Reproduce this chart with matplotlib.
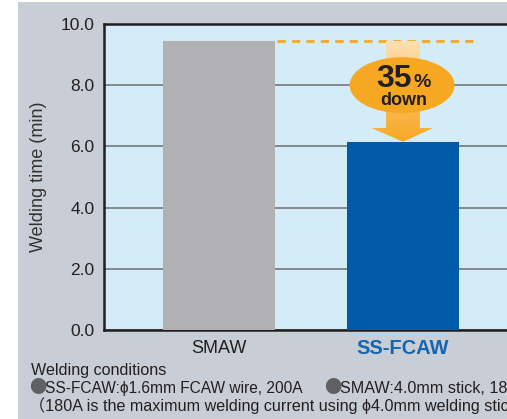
import matplotlib
matplotlib.use("Agg")
import matplotlib.pyplot as plt
from matplotlib.patches import Rectangle, Ellipse, Polygon
from matplotlib.colors import LinearSegmentedColormap
import numpy as np

# data
categories = ["SMAW", "SS-FCAW"]
times = [9.45, 6.15]
bar_colors = ["#b1b1b3", "#005aa8"]
yticks = [0.0, 2.0, 4.0, 6.0, 8.0, 10.0]
reduction_label = "35"
note_title = "Welding conditions"
note_fcaw = "SS-FCAW:\u03d51.6mm FCAW wire, 200A"
note_smaw = "SMAW:4.0mm stick, 180A"
note_extra = "\uff08180A is the maximum welding current using \u03d54.0mm welding stick\uff09"

plt.rcParams['font.family'] = ['Liberation Sans', 'DejaVu Sans', 'Noto Sans CJK JP']

W, H = 507, 419
fig = plt.figure(figsize=(W / 100, H / 100), dpi=100, facecolor="white")
# grey panel behind everything (thin white strip on the left / top)
fig.patches.append(Rectangle((18 / W, 0), 1, (H - 2) / H, transform=fig.transFigure,
                             facecolor="#c7ced5", edgecolor="none", zorder=-10))

ax = fig.add_axes([104 / W, (H - 330) / H, 414 / W, 306 / H])
ax.set_facecolor("#d3ecf8")

x = np.arange(len(categories))
ax.bar(x, times, width=0.61, color=bar_colors, zorder=3)

ax.set_yticks(yticks)
ax.set_yticklabels([f"{v:.1f}" for v in yticks], fontsize=12.5, color="#231f20")
ax.tick_params(axis="y", length=0, pad=7)
ax.set_xticks(x)
ax.set_xticklabels([])
ax.tick_params(axis="x", length=0)
ax.grid(axis="y", color="#6d6e71", lw=1.1, zorder=1)
ax.set_axisbelow(True)
for side in ["left", "top", "bottom"]:
    ax.spines[side].set_color("#231f20")
    ax.spines[side].set_linewidth(1.8)
ax.spines["right"].set_visible(False)

ax.set_ylabel("Welding time (min)", fontsize=13, color="#333333", labelpad=10)

# category labels
ax.text(x[0], -0.59, categories[0], ha="center", va="center", fontsize=13,
        color="#231f20", clip_on=False)
ax.text(x[1], -0.59, categories[1], ha="center", va="center", fontsize=14.5,
        fontweight="bold", color="#1565b0", clip_on=False)

# dashed reference line at SMAW level
ax.plot([0.315, 1.38], [times[0], times[0]], ls=(0, (3, 2.2)), color="#f7a823",
        lw=2, zorder=4)

# arrow with gradient
top, bot = times[0], times[1]
head_base = bot + 0.45
arrow = Polygon([(0.908, top), (1.092, top), (1.092, head_base), (1.163, head_base),
                 (1.0, bot), (0.83, head_base), (0.908, head_base)],
                closed=True, facecolor="none", edgecolor="none")
ax.add_patch(arrow)
cmap = LinearSegmentedColormap.from_list("arr", ["#f8a828", "#fbc060", "#fee0b4"])
grad = np.linspace(0, 1, 200).reshape(-1, 1)
im = ax.imshow(grad, extent=[0.8, 1.2, bot, top], origin="lower", cmap=cmap,
               aspect="auto", zorder=5)
im.set_clip_path(arrow)

ax.add_patch(Ellipse((0.995, 8.0), 0.57, 1.83, facecolor="#f7a823", edgecolor="none",
                     zorder=6))
ax.text(0.951, 7.94, reduction_label, ha="center", va="baseline", fontsize=23,
        fontweight="bold", color="#231f20", zorder=7)
ax.text(1.105, 7.94, "%", ha="center", va="baseline", fontsize=14,
        fontweight="bold", color="#231f20", zorder=7)
ax.text(1.005, 7.35, "down", ha="center", va="baseline", fontsize=13,
        fontweight="bold", color="#231f20", zorder=7)

ax.set_xlim(-0.625, 1.625)
ax.set_ylim(0, 10)

# notes below the chart
def fy(py):
    return 1 - py / H

txt_kw = dict(fontsize=11.6, color="#231f20", ha="left", va="baseline")
bullet_kw = dict(fontsize=12.5, color="#5f6062", ha="left", va="baseline",
                 family=['Noto Sans CJK JP', 'DejaVu Sans'])
fig.text(31 / W, fy(375), note_title, **txt_kw)
fig.text(29 / W, fy(393), "\u25cf", **bullet_kw)
fig.text(45 / W, fy(393), note_fcaw, fontsize=11.2, color="#231f20",
         ha="left", va="baseline")
fig.text(324 / W, fy(393), "\u25cf", **bullet_kw)
fig.text(340 / W, fy(393), note_smaw, **txt_kw)
fig.text(29 / W, fy(411), note_extra, **txt_kw)

fig.savefig("out.png", dpi=100, facecolor=fig.get_facecolor())
